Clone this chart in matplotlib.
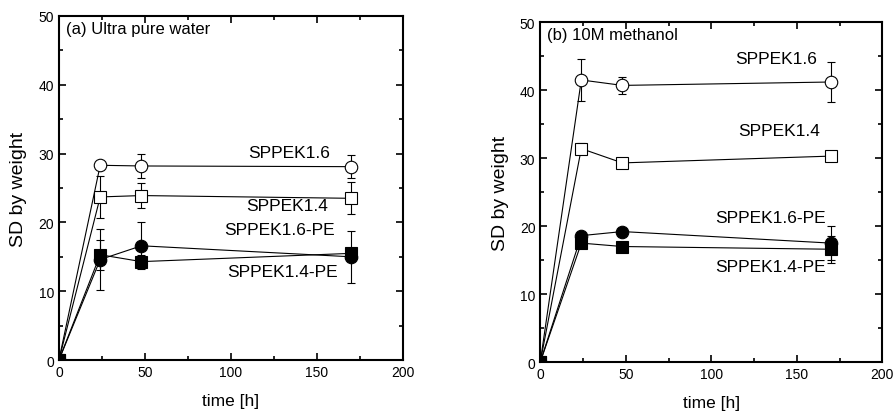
import matplotlib.pyplot as plt
from matplotlib.ticker import MultipleLocator

plt.rcParams['font.family'] = ['Liberation Sans', 'DejaVu Sans']

zeit = [0, 24, 48, 170]

# (a) Ultra pure water
a_16 = [0, 28.3, 28.2, 28.1]
a_16_err = [0, 0.3, 1.8, 1.7]
a_14 = [0, 23.7, 23.9, 23.5]
a_14_err = [0, 3.0, 1.8, 2.3]
a_16pe = [0, 14.6, 16.6, 15.0]
a_16pe_err = [0, 4.4, 3.4, 3.8]
a_14pe = [0, 15.3, 14.3, 15.5]
a_14pe_err = [0, 2.2, 0.9, 0.5]

# (b) 10M methanol
b_16 = [0, 41.5, 40.7, 41.2]
b_16_err = [0, 3.1, 1.3, 3.0]
b_14 = [0, 31.4, 29.3, 30.3]
b_14_err = [0, 0.8, 0.6, 0.3]
b_16pe = [0, 18.6, 19.2, 17.5]
b_16pe_err = [0, 0.6, 0.4, 2.5]
b_14pe = [0, 17.5, 17.0, 16.6]
b_14pe_err = [0, 0.3, 0.3, 2.0]

fig = plt.figure(figsize=(8.93, 4.14), dpi=100)
ax1 = fig.add_axes([0.066, 0.128, 0.385, 0.831])
ax2 = fig.add_axes([0.605, 0.123, 0.383, 0.821])


def zeichne(ax, reihen, titel, labels):
    for werte, fehler, marker, fill in reihen:
        ax.errorbar(zeit, werte, yerr=fehler, color='black', lw=0.8,
                    marker=marker, markersize=9 if marker == 'o' else 8,
                    markerfacecolor=fill, markeredgecolor='black',
                    markeredgewidth=0.8, ecolor='black', elinewidth=0.8,
                    capsize=3, capthick=0.8, zorder=3)
    ax.set_xlim(0, 200)
    ax.set_ylim(0, 50)
    ax.xaxis.set_major_locator(MultipleLocator(50))
    ax.xaxis.set_minor_locator(MultipleLocator(25))
    ax.yaxis.set_major_locator(MultipleLocator(10))
    ax.yaxis.set_minor_locator(MultipleLocator(5))
    ax.tick_params(which='both', direction='in', top=True, right=True,
                   labelsize=10, width=1.2)
    ax.tick_params(which='major', length=5)
    ax.tick_params(which='minor', length=3)
    for s in ax.spines.values():
        s.set_linewidth(1.5)
    ax.set_xlabel('time [h]', fontsize=12.5, labelpad=10)
    ax.set_ylabel('SD by weight', fontsize=14, labelpad=8)
    ax.text(4, 48.2, titel, fontsize=12, va='center')
    for x, y, t in labels:
        ax.text(x, y, t, fontsize=12.5, va='center')


zeichne(ax1, [(a_16, a_16_err, 'o', 'white'),
              (a_14, a_14_err, 's', 'white'),
              (a_16pe, a_16pe_err, 'o', 'black'),
              (a_14pe, a_14pe_err, 's', 'black')],
        '(a) Ultra pure water',
        [(110, 30.2, 'SPPEK1.6'), (109, 22.4, 'SPPEK1.4'),
         (96, 19.0, 'SPPEK1.6-PE'), (98, 12.8, 'SPPEK1.4-PE')])

zeichne(ax2, [(b_16, b_16_err, 'o', 'white'),
              (b_14, b_14_err, 's', 'white'),
              (b_16pe, b_16pe_err, 'o', 'black'),
              (b_14pe, b_14pe_err, 's', 'black')],
        '(b) 10M methanol',
        [(114, 44.6, 'SPPEK1.6'), (116, 34.0, 'SPPEK1.4'),
         (102, 21.3, 'SPPEK1.6-PE'), (102, 14.1, 'SPPEK1.4-PE')])

plt.savefig('out.png', dpi=100)
